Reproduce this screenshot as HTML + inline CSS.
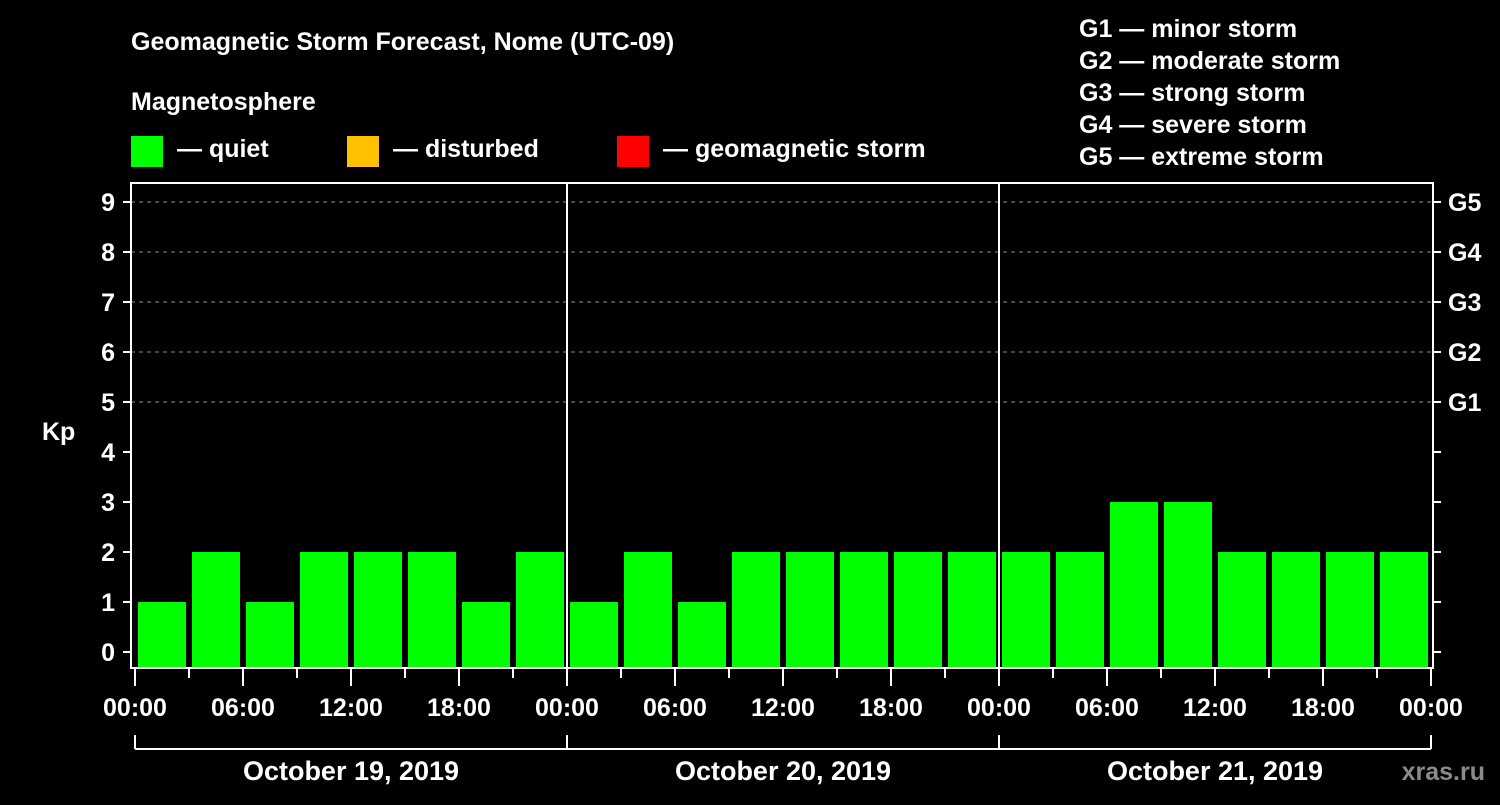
<!DOCTYPE html>
<html><head><meta charset="utf-8"><style>
body{margin:0;background:#000;}
svg text{font-family:"Liberation Sans",Arial,sans-serif;font-weight:bold;fill:#fff;}
</style></head><body>
<svg id="chart" width="1500" height="800" xmlns="http://www.w3.org/2000/svg">
<rect width="1500" height="800" fill="#000"/>
<text x="131" y="50" font-size="25">Geomagnetic Storm Forecast, Nome (UTC-09)</text>
<text x="131" y="110" font-size="25">Magnetosphere</text>
<g><rect x="131" y="136" width="32" height="31" fill="#00ff00"/><text x="177" y="157" font-size="25">— quiet</text></g>
<g><rect x="347" y="136" width="32" height="31" fill="#ffc000"/><text x="393" y="157" font-size="25">— disturbed</text></g>
<g><rect x="617" y="136" width="32" height="31" fill="#ff0000"/><text x="663" y="157" font-size="25">— geomagnetic storm</text></g>
<g font-size="25">
<text x="1079" y="37">G1 — minor storm</text>
<text x="1079" y="69">G2 — moderate storm</text>
<text x="1079" y="101">G3 — strong storm</text>
<text x="1079" y="133">G4 — severe storm</text>
<text x="1079" y="165">G5 — extreme storm</text>
</g>
<text x="42" y="440" font-size="25">Kp</text>
<g id="grid"></g><g id="bars"></g><g id="axes"></g>
<text x="1485" y="780" font-size="25" fill="#888" text-anchor="end" style="fill:#8a8a8a">xras.ru</text>
</svg>
<script>
const kpValues=[1,2,1,2,2,2,1,2, 1,2,1,2,2,2,2,2, 2,2,3,3,2,2,2,2];
const yTicks=[0,1,2,3,4,5,6,7,8,9];
const gLabels=["G1","G2","G3","G4","G5"];
const timeLabels=["00:00","06:00","12:00","18:00"];
const dayLabels=["October 19, 2019","October 20, 2019","October 21, 2019"];
const NS="http://www.w3.org/2000/svg";
const X0=135,DAY=432,LEFT=131,RIGHT=1433,TOP=183,BOTTOM=668;
const y=v=>652-50*v;
const x=h=>X0+h*DAY/24;
function mk(tag,attrs,parent,txt){const e=document.createElementNS(NS,tag);for(const k in attrs)e.setAttribute(k,attrs[k]);if(txt!==undefined)e.textContent=txt;parent.appendChild(e);return e;}
const grid=document.getElementById('grid'),bars=document.getElementById('bars'),axes=document.getElementById('axes');
yTicks.forEach(v=>{
 if(v>=5){const l=mk('line',{x1:LEFT,x2:RIGHT,y1:y(v),y2:y(v),stroke:'#888','stroke-dasharray':'4,4','stroke-width':1},grid);
 
 }
 const t=mk('text',{x:115,y:y(v)+9,'font-size':25,'text-anchor':'end'},axes,String(v));
 
 
 mk('line',{x1:LEFT-8,x2:LEFT,y1:y(v),y2:y(v),stroke:'#fff','stroke-width':2},axes);
 mk('line',{x1:RIGHT,x2:RIGHT+8,y1:y(v),y2:y(v),stroke:'#fff','stroke-width':2},axes);
});
gLabels.forEach((g,i)=>{const t=mk('text',{x:1448,y:y(5+i)+9,'font-size':25},axes,g);
 
 });
kpValues.forEach((v,i)=>{
 const col=v>=5?'#ff0000':(v>=4?'#ffc000':'#00ff00');
 const r=mk('rect',{x:x(i*3)+3,y:y(v),width:48,height:BOTTOM-1-y(v),fill:col},bars);
 
 
});
mk('rect',{x:LEFT,y:TOP,width:RIGHT-LEFT,height:BOTTOM-TOP,fill:'none',stroke:'#fff','stroke-width':2},axes);
for(let d=1;d<3;d++){const l=mk('line',{x1:x(24*d),x2:x(24*d),y1:TOP,y2:BOTTOM,stroke:'#fff','stroke-width':2},axes);
 
 }
for(let i=0;i<=24;i++){const major=i%2==0;mk('line',{x1:x(i*3),x2:x(i*3),y1:BOTTOM,y2:BOTTOM+(major?18:10),stroke:'#fff','stroke-width':2},axes);}
for(let d=0;d<3;d++){timeLabels.forEach((lab,j)=>{const t=mk('text',{x:x(d*24+j*6),y:716,'font-size':25,'text-anchor':'middle'},axes,lab);
 
 });}
const tl=mk('text',{x:x(72),y:716,'font-size':25,'text-anchor':'middle'},axes,"00:00");


mk('line',{x1:x(0),x2:x(72),y1:749,y2:749,stroke:'#fff','stroke-width':2},axes);
for(let d=0;d<=3;d++)mk('line',{x1:x(24*d),x2:x(24*d),y1:735,y2:749,stroke:'#fff','stroke-width':2},axes);
dayLabels.forEach((lab,d)=>{const t=mk('text',{x:x(24*d+12),y:780,'font-size':27,'text-anchor':'middle'},axes,lab);
 
 });
</script>
</body></html>
